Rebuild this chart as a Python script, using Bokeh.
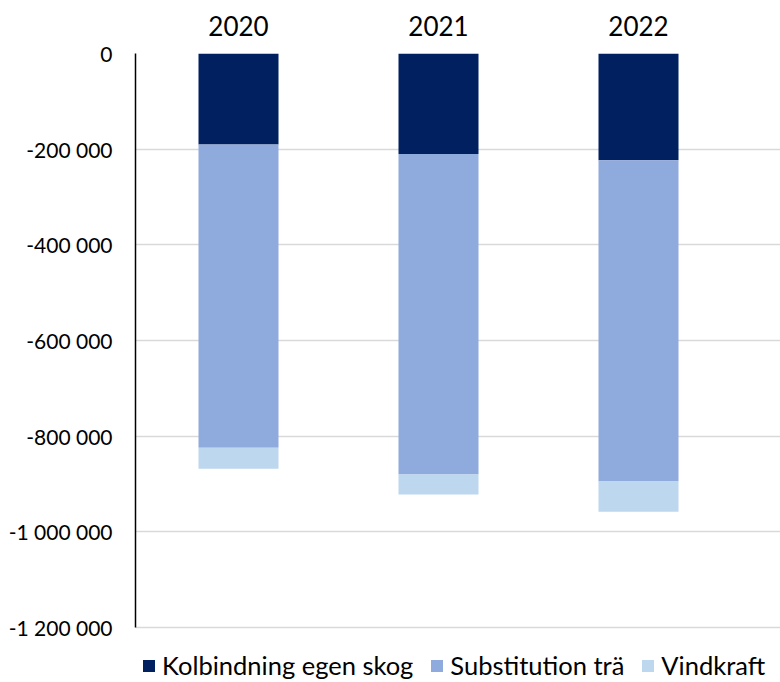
from bokeh.plotting import figure
from bokeh.models import Range1d, FixedTicker, Legend, LegendItem, ColumnDataSource
from bokeh.embed import file_html
from bokeh.resources import INLINE

# ---- data ----
years = ["2020", "2021", "2022"]
kolbindning = [-190000, -210000, -223000]
substitution = [-634000, -670000, -672000]
vindkraft = [-44000, -42000, -63000]
series_names = ["Kolbindning egen skog", "Substitution trä", "Vindkraft"]
colors = ["#002060", "#8FAADC", "#BDD7EE"]
y_ticks = [0, -200000, -400000, -600000, -800000, -1000000, -1200000]
y_tick_labels = ["0", "-200 000", "-400 000", "-600 000", "-800 000", "-1 000 000", "-1 200 000"]

FONT = "Lato"

xs = list(range(len(years)))
src = ColumnDataSource(dict(x=xs, kol=kolbindning, sub=substitution, vind=vindkraft))

p = figure(width=780, height=682, output_backend="svg", toolbar_location=None,
           x_axis_location="above",
           x_range=Range1d(-0.515, 2.71), y_range=Range1d(-1315000, 0),
           min_border_left=135, min_border_right=0, min_border_top=53, min_border_bottom=0)
p.outline_line_color = None
p.background_fill_color = "white"
p.border_fill_color = "white"

renderers = p.vbar_stack(["kol", "sub", "vind"], x="x", width=0.4, source=src,
                         color=colors, line_color=None)

# axes
xa = p.xaxis[0]
xa.ticker = FixedTicker(ticks=xs)
xa.major_label_overrides = {i: y for i, y in zip(xs, years)}
xa.axis_line_color = None
xa.major_tick_line_color = None
xa.minor_tick_line_color = None
xa.major_label_text_font = FONT
xa.major_label_text_font_size = "26px"
xa.major_label_text_color = "#000000"
xa.major_label_standoff = 12

ya = p.yaxis[0]
ya.ticker = FixedTicker(ticks=y_ticks)
ya.bounds = (-1200000, 0)
ya.major_label_overrides = {t: l for t, l in zip(y_ticks, y_tick_labels)}
ya.axis_line_color = "#000000"
ya.axis_line_width = 1.5
ya.major_tick_line_color = None
ya.minor_tick_line_color = None
ya.major_label_text_font = FONT
ya.major_label_text_font_size = "21px"
ya.major_label_text_color = "#000000"
ya.major_label_standoff = 17

p.xgrid.grid_line_color = None
p.ygrid.grid_line_color = "#D9D9D9"
p.ygrid.grid_line_width = 1.5
p.ygrid.ticker = FixedTicker(ticks=y_ticks)

legend = Legend(items=[LegendItem(label=n, renderers=[r]) for n, r in zip(series_names, renderers)],
                orientation="horizontal", location=(6, 2),
                glyph_width=15, glyph_height=15, label_standoff=6, spacing=16,
                padding=0, margin=0, border_line_color=None, background_fill_alpha=0,
                label_text_font=FONT, label_text_font_size="25.5px", label_text_color="#000000")
p.add_layout(legend, "center")

open("out.html", "w").write(file_html(p, INLINE))
